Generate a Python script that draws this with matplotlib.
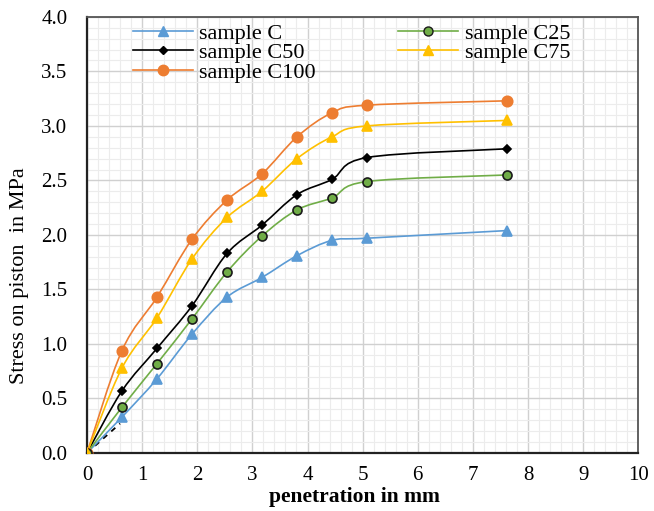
import numpy as np
import matplotlib.pyplot as plt
from matplotlib.path import Path
from matplotlib.patches import PathPatch
from matplotlib.lines import Line2D
from matplotlib.ticker import MultipleLocator

plt.rcParams['font.family'] = ['Liberation Serif', 'DejaVu Serif']

# penetration (mm) and stress (MPa)
penetration = [0, 0.635, 1.27, 1.905, 2.54, 3.175, 3.81, 4.445, 5.08, 7.62]
stress_c = [0, 0.33, 0.68, 1.09, 1.43, 1.61, 1.81, 1.95, 1.97, 2.04]
stress_c25 = [0, 0.42, 0.82, 1.23, 1.66, 1.99, 2.23, 2.34, 2.49, 2.55]
stress_c50 = [0, 0.57, 0.96, 1.35, 1.83, 2.09, 2.37, 2.51, 2.71, 2.79]
stress_c75 = [0, 0.78, 1.24, 1.78, 2.16, 2.40, 2.70, 2.90, 3.00, 3.05]
stress_c100 = [0, 0.94, 1.43, 1.96, 2.32, 2.56, 2.90, 3.12, 3.19, 3.23]

# short dashed correction line near the origin
corr_x = [0, 0.6]
corr_y = [0, 0.27]


def smooth_path(x, y):
    # Excel-like smoothed line: cubic bezier through every point
    p = np.column_stack([x, y]).astype(float)
    verts = [p[0]]
    codes = [Path.MOVETO]
    n = len(p)
    for i in range(n - 1):
        p_prev = p[max(i - 1, 0)]
        p_next2 = p[min(i + 2, n - 1)]
        c1 = p[i] + (p[i + 1] - p_prev) / 6
        c2 = p[i + 1] - (p_next2 - p[i]) / 6
        verts += [c1, c2, p[i + 1]]
        codes += [Path.CURVE4] * 3
    return Path(verts, codes)


series = [
    ('sample C', stress_c, '#5B9BD5', '^', 7, '#5B9BD5'),
    ('sample C50', stress_c50, 'black', 'D', 4.5, 'black'),
    ('sample C100', stress_c100, '#ED7D31', 'o', 7.5, '#ED7D31'),
    ('sample C25', stress_c25, '#70AD47', 'o', 6.5, '#1a1a1a'),
    ('sample C75', stress_c75, '#FFC000', '^', 7, '#FFC000'),
]

fig = plt.figure(figsize=(6.54, 5.11), dpi=100)
ax = fig.add_axes([0.133, 0.1135, 0.843, 0.8535])

handles = []
for label, ys, col, mk, ms, edge in series:
    ax.add_patch(PathPatch(smooth_path(penetration, ys), fill=False,
                           edgecolor=col, linewidth=1.2, zorder=3))
    ax.plot(penetration, ys, linestyle='none', marker=mk, markersize=ms,
            markerfacecolor=col, markeredgecolor=edge, markeredgewidth=1.2,
            zorder=4)
    handles.append(Line2D([], [], color=col, linewidth=1.2, marker=mk,
                          markersize=ms, markerfacecolor=col,
                          markeredgecolor=edge, label=label))

ax.plot(corr_x, corr_y, color='black', linestyle=(0, (3, 3)), linewidth=1.3,
        zorder=2)

ax.set_xlim(0, 10)
ax.set_ylim(0, 4.0)
ax.xaxis.set_major_locator(MultipleLocator(1))
ax.xaxis.set_minor_locator(MultipleLocator(0.2))
ax.yaxis.set_major_locator(MultipleLocator(0.5))
ax.yaxis.set_minor_locator(MultipleLocator(0.1))
ax.yaxis.set_major_formatter(lambda v, pos: f'{v:.1f}')
ax.grid(which='major', color='#d0d0d0', linewidth=1.0)
ax.grid(which='minor', color='#ececec', linewidth=0.8)
ax.set_axisbelow(True)
ax.tick_params(which='both', length=0, labelsize=15)
ax.tick_params(axis='y', pad=14)
ax.tick_params(axis='x', pad=9)

for side in ['left', 'bottom']:
    ax.spines[side].set_color('#222222')
    ax.spines[side].set_linewidth(1.6)
for side in ['top', 'right']:
    ax.spines[side].set_color('#555555')
    ax.spines[side].set_linewidth(1.3)

ax.set_xlabel('penetration in mm', fontsize=15.5, fontweight='bold')
ax.set_ylabel('Stress on piston  in MPa', fontsize=16)
ax.xaxis.set_label_coords(0.486, -0.078)
ax.yaxis.set_label_coords(-0.105, 0.407)

ax.legend(handles=handles, ncol=2, loc='upper left',
          bbox_to_anchor=(0.067, 1.006), frameon=False, fontsize=16,
          handlelength=2.7, labelspacing=-0.05, columnspacing=3.7,
          handletextpad=0.3, borderaxespad=0)

fig.savefig('out.png', dpi=100)
